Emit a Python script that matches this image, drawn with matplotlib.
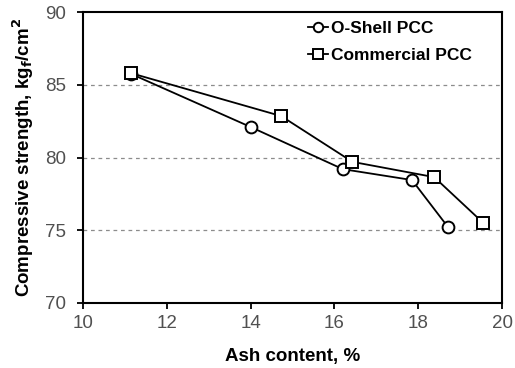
import numpy as np
import matplotlib.pyplot as plt

plt.rcParams['font.family'] = ['Liberation Sans', 'DejaVu Sans']

# data
oshell_x = [11.15, 14.0, 16.2, 17.85, 18.7]
oshell_y = [85.75, 82.1, 79.2, 78.45, 75.25]
comm_x = [11.15, 14.73, 16.43, 18.38, 19.55]
comm_y = [85.8, 82.85, 79.7, 78.65, 75.5]

fig = plt.figure(figsize=(5.15, 3.68), dpi=100)
ax = fig.add_axes([0.161, 0.177, 0.814, 0.79])

ax.plot(oshell_x, oshell_y, color='black', lw=1.3, marker='o', ms=8.5,
        mfc='white', mec='black', mew=1.4, label='O-Shell PCC', zorder=3)
ax.plot(comm_x, comm_y, color='black', lw=1.3, marker='s', ms=8.5,
        mfc='white', mec='black', mew=1.4, label='Commercial PCC', zorder=4)

ax.set_xlim(10, 20)
ax.set_ylim(70, 90)
ax.set_xticks(np.arange(10, 21, 2))
ax.set_yticks(np.arange(70, 91, 5))
for yv in [75, 80, 85]:
    ax.axhline(yv, color='#8c8c8c', lw=0.9, ls=(0, (3, 3)), zorder=1)

ax.tick_params(direction='out', length=4, width=1.3, labelsize=13.5,
               labelcolor='#505050', color='black')
ax.tick_params(axis='y', pad=8)
ax.tick_params(axis='x', pad=5)
for s in ax.spines.values():
    s.set_linewidth(1.5)

ax.set_xlabel('Ash content, %', fontsize=13.5, fontweight='bold', labelpad=11)
ax.set_ylabel('Compressive strength, kg$_\\mathbf{f}$/cm$^\\mathbf{2}$', fontsize=13.5,
              fontweight='bold', labelpad=7)

ax.legend(loc='upper right', bbox_to_anchor=(0.965, 1.025), frameon=False,
          handlelength=1.2, handletextpad=0.15, markerscale=0.8,
          labelspacing=0.7, prop={'weight': 'bold', 'size': 12.5})

plt.savefig('out.png')
